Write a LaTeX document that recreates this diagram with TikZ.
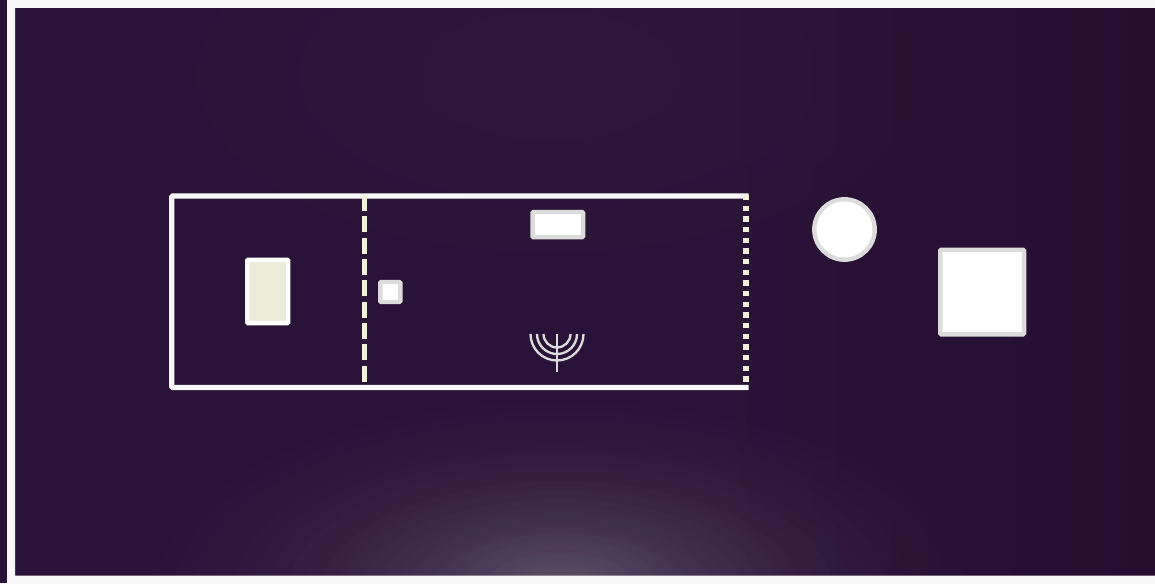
\documentclass[tikz,border=0pt]{standalone}
\usetikzlibrary{fadings}
\definecolor{bgp}{HTML}{2A1338}
\definecolor{bgd}{HTML}{240E30}
\definecolor{bgl}{HTML}{32203F}
\definecolor{frame}{HTML}{F8F8F9}
\definecolor{edge}{HTML}{DCDCDC}
\definecolor{cream}{HTML}{EBEDD9}
\definecolor{dashc}{HTML}{F1F0D9}
\definecolor{glowc}{HTML}{E4EBE4}
\tikzfading[name=softglow, inner color=transparent!0, outer color=transparent!100]
\tikzset{
  x=1pt,y=-1pt,
  whitebox/.style={draw=edge,fill=white,line width=4.4pt,rounded corners=1pt,inner sep=0pt,outer sep=0pt},
  creambox/.style={draw=white,fill=cream,line width=4.4pt,rounded corners=1pt,inner sep=0pt,outer sep=0pt},
  candle/.style={draw=edge,line width=2.3pt},
  glow/.style={fill=#1,path fading=softglow}
}
\begin{document}
\begin{tikzpicture}
\useasboundingbox (0,0) rectangle (1155,583);
% page
\fill[bgp] (0,0) rectangle (1155,583);
\begin{scope}
  \clip (10,4) rectangle (1155,580);
  \fill[bgp] (10,4) rectangle (700,580);
  \shade[left color=bgp,right color=bgd] (700,4) rectangle (1155,580);
  \fill[glow=bgl,opacity=.35] (100,-150) rectangle (1000,300);
  \fill[glow=glowc,opacity=.09] (130,390) rectangle (990,790);
  \fill[glow=glowc,opacity=.08] (210,430) rectangle (910,750);
  \fill[glow=glowc,opacity=.07] (300,470) rectangle (820,710);
  \fill[glow=glowc,opacity=.06] (380,500) rectangle (740,680);
  \fill[glow=glowc,opacity=.05] (450,530) rectangle (670,650);
\end{scope}
% white page frame, on top of the background
\fill[frame,even odd rule,rounded corners=0pt]
  [rounded corners=4pt] (7,-6) rectangle (1161,589)
  [rounded corners=0pt] (15,8) rectangle (1161,575.5);
% container
\draw[white,line width=5.3pt,rounded corners=1pt,opacity=.97] (748.5,196) -- (171.8,196) -- (171.8,387.5) -- (748.5,387.5);
\draw[dashc,line width=5.6pt,dash pattern=on 16pt off 5.33pt] (364.3,195) -- (364.3,384);
\draw[dashc,line width=5.6pt,dash pattern=on 5.33pt off 5.33pt] (746,195) -- (746,384);
% items
\node[creambox,minimum width=41pt,minimum height=63.5pt] (cream) at (267.7,291.5) {};
\node[whitebox,minimum width=50.5pt,minimum height=25.3pt] (top) at (557.8,224.6) {};
\node[whitebox,minimum width=20pt,minimum height=20pt] (small) at (390.3,292) {};
\node[whitebox,circle,minimum size=60.4pt] (round) at (844.5,229.5) {};
\node[whitebox,minimum width=83.7pt,minimum height=84.6pt] (big) at (982.2,292) {};
% menorah
\coordinate (mc) at (557,334);
\draw[candle] (mc) -- ++(0,38);
\draw[candle] (mc) ++(-26.5,0) arc[start angle=180,end angle=0,radius=26.5];
\draw[candle] (mc) ++(-20,0) arc[start angle=180,end angle=0,radius=20];
\draw[candle] (mc) ++(-13.5,0) arc[start angle=180,end angle=0,radius=13.5];
\end{tikzpicture}
\end{document}
